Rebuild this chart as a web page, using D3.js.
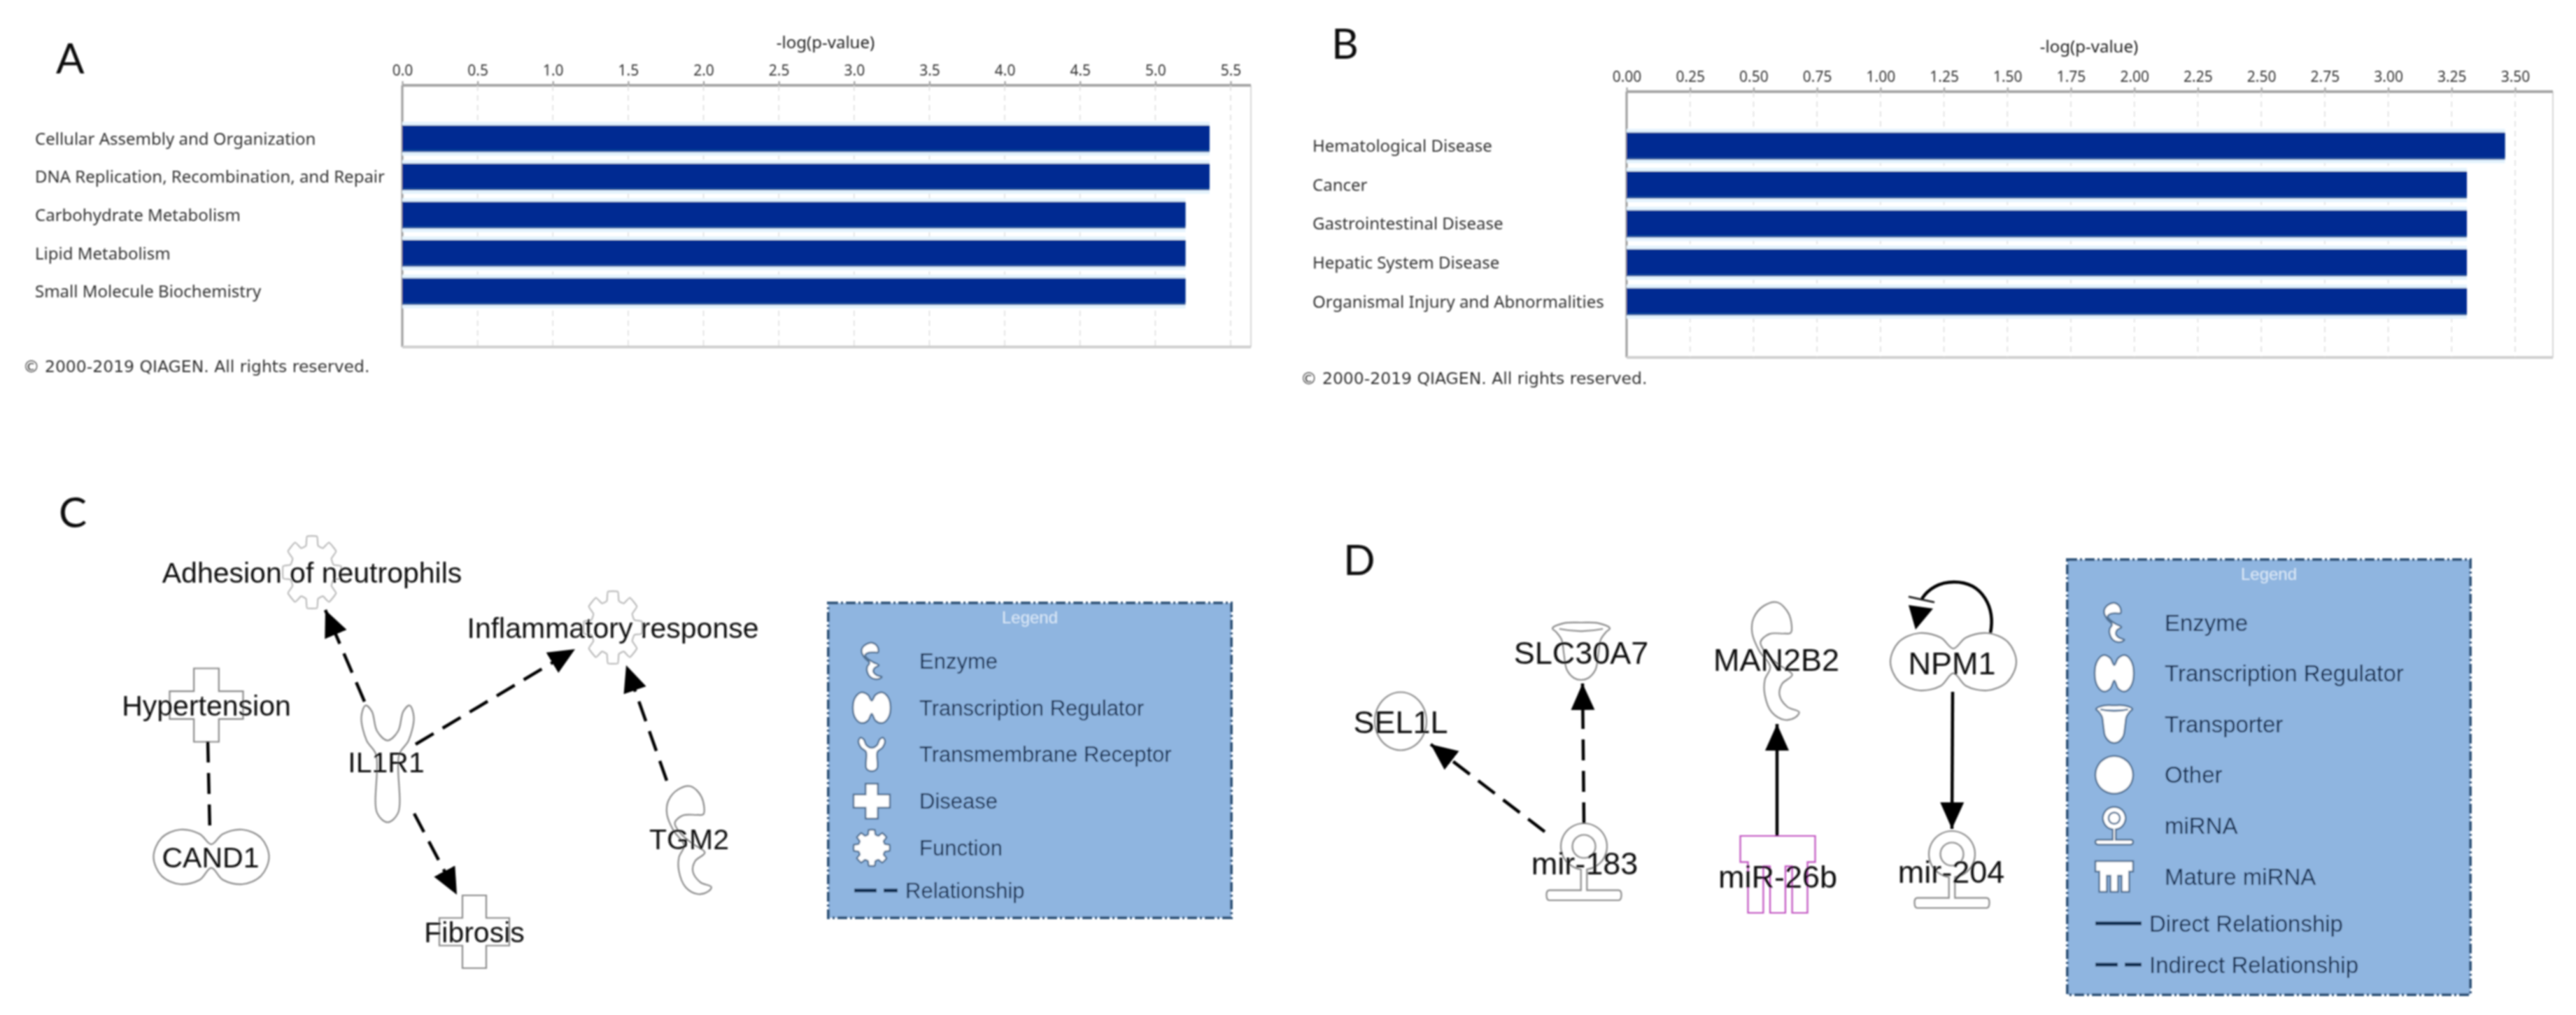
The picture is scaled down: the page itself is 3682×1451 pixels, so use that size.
<!DOCTYPE html>
<html>
<head>
<meta charset="utf-8">
<title>IPA panels</title>
<script src="https://d3js.org/d3.v7.min.js"></script>
<style>
	html, body { margin: 0; background: #fff; }
	text { font-family: "Liberation Sans", Arial, sans-serif; }
	.small { font-family: "Noto Sans", sans-serif; }
</style>
</head>
<body>
<div class="chart"></div>
<script>
// panel A
var catsA = ['Cellular Assembly and Organization', 'DNA Replication, Recombination, and Repair', 'Carbohydrate Metabolism', 'Lipid Metabolism', 'Small Molecule Biochemistry']
var valsA = [5.36, 5.36, 5.2, 5.2, 5.2]
var ticksA = [0, 0.5, 1, 1.5, 2, 2.5, 3, 3.5, 4, 4.5, 5, 5.5]
// panel B
var catsB = ['Hematological Disease', 'Cancer', 'Gastrointestinal Disease', 'Hepatic System Disease', 'Organismal Injury and Abnormalities']
var valsB = [3.46, 3.31, 3.31, 3.31, 3.31]
var ticksB = [0, 0.25, 0.5, 0.75, 1, 1.25, 1.5, 1.75, 2, 2.25, 2.5, 2.75, 3, 3.25, 3.5]
var axisTitle = '-log(p-value)'
var copyright = '© 2000-2019 QIAGEN. All rights reserved.'
// network labels
var labelsC = ['Adhesion of neutrophils', 'Inflammatory response', 'Hypertension', 'IL1R1', 'CAND1', 'TGM2', 'Fibrosis']
var labelsD = ['SEL1L', 'SLC30A7', 'MAN2B2', 'NPM1', 'mir-183', 'miR-26b', 'mir-204']
var legendTitle = 'Legend'
var legendC = ['Enzyme', 'Transcription Regulator', 'Transmembrane Receptor', 'Disease', 'Function']
var legendD = ['Enzyme', 'Transcription Regulator', 'Transporter', 'Other', 'miRNA', 'Mature miRNA']

var svg = d3.select('.chart').append('svg').attr('width', 3682).attr('height', 1451)
	.style('display', 'block').style('background', '#fff')

var defs = svg.append('defs')
defs.append('filter').attr('id', 'soft').append('feGaussianBlur').attr('stdDeviation', 0.8)
defs.append('marker').attr('id', 'arrow').attr('markerUnits', 'userSpaceOnUse')
	.attr('markerWidth', 40).attr('markerHeight', 36).attr('refX', 38).attr('refY', 17)
	.attr('orient', 'auto')
	.append('path').attr('d', 'M0,0L38,17L0,34Z').attr('fill', '#000')

var root = svg.append('g').attr('filter', 'url(#soft)')

// shapes, unit outlines go through a closed curve
var smooth = d3.line().curve(d3.curveCatmullRomClosed.alpha(0.5))
var straight = d3.line()

function outline(pts, w, h) {
	return smooth(pts.map((p) => [(p[0] - 0.5) * w, (p[1] - 0.5) * h]))
}
var enzymePts = [[.53, 0], [.77, .1], [.81, .26], [.68, .266], [.37, .27], [.19, .34], [.32, .44], [.58, .535], [.84, .615], [.63, .695], [.58, .79], [.74, .89], [.98, .935], [.9, .98], [.68, 1], [.42, .935], [.28, .79], [.28, .66], [.39, .55], [.16, .41], [.02, .26], [.05, .135], [.26, .03]]
var dimerPts = [[.23, 0], [.4, .08], [.5, .27], [.6, .08], [.77, 0], [.93, .15], [1, .5], [.93, .85], [.77, 1], [.6, .92], [.5, .7], [.4, .92], [.23, 1], [.07, .85], [0, .5], [.07, .15]]
var receptorPts = [[.08, 0], [.2, .05], [.3, .22], [.5, .3], [.7, .22], [.8, .05], [.92, 0], [1, .1], [.9, .3], [.72, .42], [.7, .92], [.5, 1], [.3, .92], [.28, .42], [.1, .3], [0, .1]]
var cupPts = [[0, .1], [.2, .01], [.5, 0], [.8, .01], [1, .1], [.93, .17], [.84, .3], [.8, .55], [.75, .82], [.62, .97], [.5, 1], [.38, .97], [.25, .82], [.2, .55], [.16, .3], [.07, .17]]

var shapes = {
	enzyme: (w, h) => outline(enzymePts, w, h),
	dimer: (w, h) => outline(dimerPts, w, h),
	receptor: (w, h) => outline(receptorPts, w, h),
	cross: function(w, h) {
		var a = w * 0.17, b = h * 0.19
		return straight([[-a, -h / 2], [a, -h / 2], [a, -b], [w / 2, -b], [w / 2, b], [a, b], [a, h / 2], [-a, h / 2], [-a, b], [-w / 2, b], [-w / 2, -b], [-a, -b]]) + 'Z'
	},
	gear: function(w, h) {
		var pts = []
		d3.range(8).forEach(function(i) {
			var t = i * Math.PI / 4
			;[[-0.27, 0.76], [-0.17, 1], [0.17, 1], [0.27, 0.76]].forEach(function(p) {
				pts.push([Math.sin(t + p[0]) * p[1] * w / 2, -Math.cos(t + p[0]) * p[1] * h / 2])
			})
		})
		return d3.line().curve(d3.curveCardinalClosed.tension(0.6))(pts)
	},
	circle: function(w, h) {
		return d3.line().curve(d3.curveCardinalClosed.tension(0))(d3.range(12).map((i) => [Math.cos(i * Math.PI / 6) * w / 2, Math.sin(i * Math.PI / 6) * h / 2]))
	},
	transporter: function(w, h) {
		// cup with flared rim and the inner rim line
		return outline(cupPts, w, h) +
			'M' + (-w * 0.38) + ',' + (-h * 0.39) + 'Q0,' + (-h * 0.31) + ' ' + w * 0.38 + ',' + (-h * 0.39)
	},
	mirna: function(w, h) {
		var p = d3.path(), r = h * 0.3, ir = h * 0.15, top = -h / 2, base = h / 2 - h * 0.13, sw = w * 0.04
		var a = Math.asin(sw / r)
		p.moveTo(-sw, top + 2 * r - 1)
		p.arc(0, top + r, r, Math.PI / 2 + a, Math.PI / 2 - a + 2 * Math.PI)
		p.lineTo(sw, base)
		p.lineTo(w / 2 - 4, base)
		p.quadraticCurveTo(w / 2, base, w / 2, base + h * 0.06)
		p.quadraticCurveTo(w / 2, h / 2, w / 2 - 4, h / 2)
		p.lineTo(-w / 2 + 4, h / 2)
		p.quadraticCurveTo(-w / 2, h / 2, -w / 2, base + h * 0.06)
		p.quadraticCurveTo(-w / 2, base, -w / 2 + 4, base)
		p.lineTo(-sw, base)
		p.closePath()
		p.moveTo(ir, top + r)
		p.arc(0, top + r, ir, 0, 2 * Math.PI)
		return p.toString()
	},
	mature: function(w, h) {
		var top = -h / 2, bar = h * 0.34, pr = w * 0.205, gap = w * 0.09, x0 = -(3 * pr + 2 * gap) / 2
		var pts = [[-w / 2, top], [w / 2, top], [w / 2, top + bar], [-x0, top + bar]]
		d3.range(3).reverse().forEach(function(i) {
			var l = x0 + i * (pr + gap)
			pts.push([l + pr, h / 2], [l, h / 2])
			if (i > 0) pts.push([l, top + bar + 6], [l - gap, top + bar + 6])
		})
		pts.push([x0, top + bar], [-w / 2, top + bar])
		return straight(pts) + 'Z'
	}
}

// bar panels
function barPanel(o) {
	var x = d3.scaleLinear().domain([0, o.ticks[o.ticks.length - 1]]).range([o.x0, o.x1])
	var y = d3.scaleBand().domain(o.cats).range(o.band).paddingInner(0.3).paddingOuter(0.15)
	var g = root.append('g')

	g.append('line').attr('x1', o.x0).attr('x2', o.x0).attr('y1', o.top).attr('y2', o.bottom).attr('stroke', '#9a9a9a').attr('stroke-width', 3)
	g.append('line').attr('x1', o.right).attr('x2', o.right).attr('y1', o.top).attr('y2', o.bottom).attr('stroke', '#d8d8d8').attr('stroke-width', 2)
	g.append('line').attr('x1', o.x0).attr('x2', o.right).attr('y1', o.bottom).attr('y2', o.bottom).attr('stroke', '#cfcfcf').attr('stroke-width', 4)

	var axis = g.append('g').attr('transform', `translate(0,${o.top})`)
		.call(d3.axisTop(x).tickValues(o.ticks).tickFormat(d3.format(o.fmt)).tickSize(6).tickPadding(8))
	axis.select('.domain').remove()
	axis.append('line').attr('x1', o.x0).attr('x2', o.right).attr('stroke', '#a6a6a6').attr('stroke-width', 4)
	axis.selectAll('.tick line').attr('stroke', '#999').attr('stroke-width', 2)
	axis.selectAll('.tick text').attr('class', 'small').attr('fill', '#333').attr('font-size', 21)

	g.selectAll('.grid').data(o.ticks.slice(1)).enter().append('line').attr('class', 'grid')
		.attr('x1', x).attr('x2', x).attr('y1', o.top).attr('y2', o.bottom)
		.attr('stroke', '#ddd').attr('stroke-width', 1.5).attr('stroke-dasharray', '8 6')

	// pale halo round each bar
	g.selectAll('.halo').data(o.cats).enter().append('rect').attr('class', 'halo')
		.attr('x', o.x0).attr('y', (d) => y(d) - 5).attr('height', y.bandwidth() + 10)
		.attr('width', (d, i) => x(o.vals[i]) - o.x0).attr('fill', '#e4f3fd')
	g.selectAll('.edge').data(o.cats).enter().append('rect').attr('class', 'edge')
		.attr('x', o.x0).attr('y', (d) => y(d)).attr('height', y.bandwidth())
		.attr('width', (d, i) => x(o.vals[i]) - o.x0).attr('fill', '#1c4f9c')
	g.selectAll('.bar').data(o.cats).enter().append('rect').attr('class', 'bar')
		.attr('x', o.x0).attr('y', (d) => y(d) + 1).attr('height', y.bandwidth() - 4)
		.attr('width', (d, i) => x(o.vals[i]) - o.x0).attr('fill', '#002c92')

	g.selectAll('.cat').data(o.cats).enter().append('text').attr('class', 'cat small')
		.attr('x', o.labelX).attr('y', (d) => y(d) + y.bandwidth() / 2).attr('dy', '0.35em')
		.attr('font-size', 24).attr('fill', '#333').text((d) => d)

	g.append('text').attr('class', 'small').attr('x', o.titleX).attr('y', o.titleY).attr('text-anchor', 'middle').attr('dy', '0.35em')
		.attr('font-size', 24).attr('fill', '#222').text(axisTitle)
	g.append('text').attr('x', o.copyX).attr('y', o.copyY).attr('dy', '0.35em')
		.style('font-family', '"DejaVu Sans", sans-serif').attr('font-size', 23.5).attr('fill', '#333').text(copyright)
}

barPanel({ cats: catsA, vals: valsA, ticks: ticksA, fmt: '.1f', x0: 575, x1: 1759, right: 1788, top: 122, bottom: 496, band: [171, 444],
	labelX: 50, titleX: 1180, titleY: 61, copyX: 33, copyY: 524 })
barPanel({ cats: catsB, vals: valsB, ticks: ticksB, fmt: '.2f', x0: 2325, x1: 3595, right: 3649, top: 131, bottom: 511, band: [181, 459],
	labelX: 1876, titleX: 2986, titleY: 67, copyX: 1859, copyY: 541 })

// panel letters
var letters = [['A', 80, 105], ['B', 1903, 84], ['C', 84, 754], ['D', 1920, 822]]
root.selectAll('.letter').data(letters).enter().append('text').attr('class', 'letter')
	.attr('x', (d) => d[1]).attr('y', (d) => d[2])
	.style('font-family', 'Lato, sans-serif').attr('font-size', 60).attr('fill', '#111').text((d) => d[0])

// network nodes: label index, shape, centre and size of the symbol, centre of the text
var nodesC = [
	[0, 'gear', 446, 818, 84, 104, 446, 819],
	[1, 'gear', 876, 897, 84, 104, 876, 898],
	[2, 'cross', 295, 1008, 105, 105, 295, 1009],
	[3, 'receptor', 554, 1092, 75, 167, 552, 1090],
	[4, 'dimer', 302, 1225, 165, 78, 301, 1226],
	[5, 'enzyme', 985, 1201, 66, 154, 985, 1200],
	[6, 'cross', 678, 1332, 100, 104, 678, 1333]
]
var nodesD = [
	[0, 'circle', 2002, 1031, 74, 83, 2002, 1032],
	[1, 'transporter', 2260, 931, 82, 82, 2260, 933],
	[2, 'enzyme', 2538, 945, 70, 168, 2539, 943],
	[3, 'dimer', 2792, 946, 180, 82, 2790, 948],
	[4, 'mirna', 2264, 1232, 107, 110, 2265, 1234],
	[5, 'mature', 2541, 1250, 107, 110, 2541, 1253],
	[6, 'mirna', 2790, 1243, 107, 110, 2789, 1246]
]
// links: x1, y1, x2, y2, dashed, arrow
var linksC = [
	[521, 1003, 465, 872, 1, 1],
	[594, 1064, 822, 928, 1, 1],
	[953, 1116, 895, 951, 1, 1],
	[592, 1163, 653, 1279, 1, 1],
	[297, 1060, 300, 1189, 1, 0]
]
var linksD = [
	[2208, 1189, 2045, 1064, 1, 1],
	[2264, 1177, 2262, 977, 1, 1],
	[2540, 1195, 2540, 1035, 0, 1],
	[2791, 989, 2790, 1185, 0, 1]
]

function network(labels, nodes, links, fontSize) {
	var g = root.append('g')
	g.selectAll('.sym').data(nodes).enter().append('path').attr('class', 'sym')
		.attr('transform', (d) => `translate(${d[2]},${d[3]})`)
		.attr('d', (d) => shapes[d[1]](d[4], d[5]))
		.attr('fill', 'none').attr('stroke', (d) => d[1] == 'mature' ? '#c04fc0' : d[1] == 'gear' ? '#bbb' : '#8a8a8a')
		.attr('stroke-width', 2.2)
	g.selectAll('.link').data(links).enter().append('line').attr('class', 'link')
		.attr('x1', (d) => d[0]).attr('y1', (d) => d[1]).attr('x2', (d) => d[2]).attr('y2', (d) => d[3])
		.attr('stroke', '#000').attr('stroke-width', 4.5)
		.attr('stroke-dasharray', (d) => d[4] ? '30 15' : null)
		.attr('marker-end', (d) => d[5] ? 'url(#arrow)' : null)
	g.selectAll('.lbl').data(nodes).enter().append('text').attr('class', 'lbl')
		.attr('x', (d) => d[6]).attr('y', (d) => d[7]).attr('dy', '0.35em').attr('text-anchor', 'middle')
		.attr('font-size', fontSize).attr('fill', '#111').text((d) => labels[d[0]])
	return g
}
network(labelsC, nodesC, linksC, 41)
var gD = network(labelsD, nodesD, linksD, 45)

// NPM1 self loop
gD.append('path').attr('d', 'M2845,905C2852,870 2835,832 2793,832C2772,832 2756,842 2747,856')
	.attr('fill', 'none').attr('stroke', '#000').attr('stroke-width', 4.5)
gD.append('line').attr('x1', 2728).attr('y1', 853).attr('x2', 2765).attr('y2', 861).attr('stroke', '#111').attr('stroke-width', 2.5)
gD.append('path').attr('d', 'M2738,900L2728,865L2763,870Z').attr('fill', '#000')

// legends
function legend(o) {
	var g = root.append('g')
	g.append('rect').attr('x', o.x).attr('y', o.y).attr('width', o.w).attr('height', o.h)
		.attr('fill', '#8fb5e0').attr('stroke', '#33557a').attr('stroke-width', 4).attr('stroke-dasharray', '14 4 3 4')
	g.append('text').attr('x', o.x + o.w / 2).attr('y', o.y + 21).attr('dy', '0.35em').attr('text-anchor', 'middle')
		.attr('font-size', 24).attr('fill', '#dbe9f7').text(legendTitle)
	var y = d3.scalePoint().domain(o.items).range(o.itemY)
	g.selectAll('.ico').data(o.items).enter().append('path').attr('class', 'ico')
		.attr('transform', (d) => `translate(${o.iconX},${y(d)})`)
		.attr('d', (d, i) => shapes[o.icons[i][0]](o.icons[i][1], o.icons[i][2]))
		.attr('fill', '#fff').attr('stroke', '#4f6f92').attr('stroke-width', 2.5)
	g.selectAll('.itm').data(o.items).enter().append('text').attr('class', 'itm')
		.attr('x', o.textX).attr('y', (d) => y(d)).attr('dy', '0.35em')
		.attr('font-size', o.font).attr('fill', '#0f2a4f').text((d) => d)
	o.lines.forEach(function(l) {
		g.append('line').attr('x1', l[0]).attr('x2', l[1]).attr('y1', l[2]).attr('y2', l[2])
			.attr('stroke', '#0f2a4f').attr('stroke-width', 5).attr('stroke-dasharray', l[3] ? '32 10' : null)
		g.append('text').attr('x', l[1] + 11).attr('y', l[2]).attr('dy', '0.35em')
			.attr('font-size', o.font).attr('fill', '#0f2a4f').text(l[4])
	})
}
legend({ x: 1184, y: 862, w: 576, h: 450, font: 31, items: legendC, itemY: [945, 1212], iconX: 1246, textX: 1314,
	icons: [['enzyme', 30, 52], ['dimer', 54, 44], ['receptor', 38, 48], ['cross', 52, 50], ['gear', 52, 52]],
	lines: [[1221, 1283, 1273, 1, 'Relationship']] })
legend({ x: 2955, y: 800, w: 576, h: 622, font: 33, items: legendD, itemY: [890, 1253], iconX: 3022, textX: 3094,
	icons: [['enzyme', 30, 56], ['dimer', 56, 52], ['transporter', 52, 54], ['circle', 54, 54], ['mirna', 54, 54], ['mature', 54, 44]],
	lines: [[2995, 3061, 1320, 0, 'Direct Relationship'], [2995, 3061, 1379, 1, 'Indirect Relationship']] })
</script>
</body>
</html>
